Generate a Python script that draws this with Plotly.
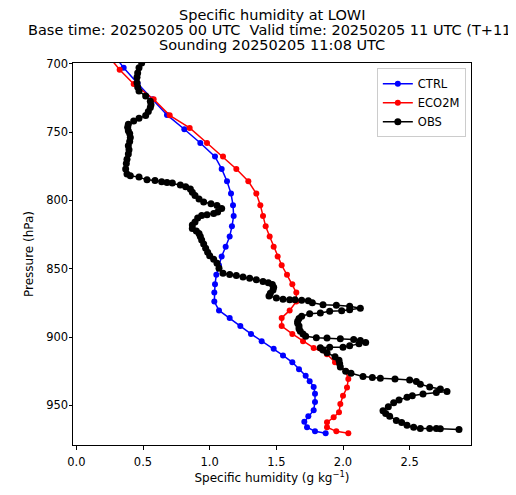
import plotly.graph_objects as go

# ---- data ----
ctrl_p = [692, 703, 714.5, 726, 737.5, 748, 758, 768, 777, 786, 795, 803.5, 811.5, 819, 826.5,
          834, 841, 847.5, 854.5, 861.3, 867.5, 874, 880.5, 886, 892, 897.7, 903, 908.5, 913.5,
          918.5, 923.5, 928.3, 932.3, 936.5, 941.5, 947.5, 953.5, 958, 962, 966, 969, 970.4]
ctrl_q = [0.27, 0.355, 0.46, 0.57, 0.68, 0.81, 0.93, 1.04, 1.09, 1.13, 1.16, 1.175, 1.18, 1.167, 1.15,
          1.12, 1.09, 1.07, 1.05, 1.04, 1.035, 1.035, 1.07, 1.15, 1.23, 1.31, 1.39, 1.48, 1.55,
          1.62, 1.67, 1.72, 1.75, 1.78, 1.79, 1.79, 1.78, 1.74, 1.71, 1.73, 1.79, 1.87]

eco_p = [692, 704.4, 714.8, 726, 737.8, 747, 758, 768, 777, 786, 795, 803.5, 811.5, 819, 826.5,
         834, 841, 847.5, 854.5, 861.3, 867.5, 874, 880.5, 886, 892, 897.7, 903, 908, 912.6,
         918.5, 924.8, 930.8, 937, 943, 949, 955, 958.7, 962.4, 966, 969, 970.4]
eco_q = [0.22, 0.325, 0.43, 0.58, 0.70, 0.85, 0.98, 1.10, 1.20, 1.29, 1.35, 1.38, 1.40, 1.42, 1.45,
         1.48, 1.51, 1.54, 1.58, 1.62, 1.65, 1.65, 1.60, 1.54, 1.54, 1.62, 1.70, 1.78, 1.88,
         1.94, 2.02, 2.04, 2.03, 2.00, 1.98, 1.97, 1.93, 1.88, 1.88, 1.95, 2.04]

obs_q = [0.50, 0.49, 0.47, 0.46, 0.455, 0.455, 0.46, 0.47, 0.52, 0.555, 0.56, 0.555, 0.54, 0.52,
         0.47, 0.43, 0.39, 0.385, 0.39, 0.40, 0.405, 0.40, 0.39, 0.395, 0.39, 0.38, 0.375, 0.37,
         0.38, 0.405, 0.47, 0.53, 0.59, 0.64, 0.68, 0.72, 0.78, 0.82, 0.855, 0.87, 0.89, 0.92, 0.955,
         1.01, 1.055, 1.09, 1.06, 1.03, 0.98, 0.94, 0.91, 0.89, 0.87, 0.87, 0.90, 0.92, 0.93,
         0.94, 0.955, 0.97, 0.985, 1.00, 1.03, 1.055, 1.07, 1.10, 1.15, 1.20, 1.25, 1.30, 1.35,
         1.40, 1.44, 1.47, 1.48, 1.475, 1.455, 1.445, 1.50, 1.55, 1.60, 1.64, 1.69, 1.74, 1.77,
         1.85, 1.95, 2.05, 2.13, 2.05, 1.99, 1.90, 1.83, 1.75, 1.69, 1.67, 1.66, 1.66, 1.67,
         1.67, 1.68, 1.70, 1.72, 1.80, 1.88, 1.98, 2.08, 2.13, 2.17, 2.12, 2.05, 2.00, 1.90,
         1.83, 1.85, 1.88, 1.94, 1.97, 1.975, 1.98, 2.02, 2.06, 2.15, 2.22, 2.28, 2.39, 2.50,
         2.55, 2.58, 2.65, 2.73, 2.78, 2.70, 2.60, 2.52, 2.48, 2.42, 2.38, 2.34, 2.30, 2.32,
         2.35, 2.40, 2.44, 2.48, 2.53, 2.58, 2.65, 2.70, 2.73, 2.87]
obs_p = [697, 699.5, 703, 706.8, 710, 714, 717, 720, 723.7, 727.4, 730, 732, 735, 738,
         740, 742, 744.3, 746.5, 749, 751, 754, 757, 760, 763, 766, 770, 773, 777,
         780.7, 782, 783, 785, 785.5, 786.3, 787, 787.3, 788.7, 790, 791.6, 794, 796.4, 799, 801.2,
         802.5, 803.7, 806, 808.5, 809.7, 810.5, 811, 813, 815.8, 818, 820.6, 822.5, 824.3, 826.5,
         829, 832, 835, 838, 840.5, 843, 846, 849.7, 853.3, 854.2, 855, 856, 857, 858,
         859.4, 860.3, 861.5, 863.5, 865.5, 868, 870, 871.5, 872.3, 872.7, 872.7, 873, 873.5, 875,
         876.3, 876.8, 877.5, 879, 880, 880.7, 881.2, 882.4, 883, 884.8, 886.5, 888.4, 890, 892,
         894, 895.7, 897.7, 899.4, 900.6, 900.8, 901.2, 901.8, 902.5, 904, 905, 906.3, 907.5, 907.5,
         907.8, 909.5, 911.5, 914.5, 917, 919.5, 922, 925, 926.5, 928.8, 929.7, 930.1, 930.8, 931.5,
         932.5, 934.5, 936.5, 938, 939.8, 940.5, 941.7, 943, 944, 946, 948, 951, 953.9, 956,
         958, 961, 962.5, 964.5, 966, 967, 967, 967, 967.2, 967.7]

x_ticks = [0.0, 0.5, 1.0, 1.5, 2.0, 2.5]
y_ticks = [700, 750, 800, 850, 900, 950]

title_lines = ["Specific humidity at LOWI",
               "Base time: 20250205 00 UTC  Valid time: 20250205 11 UTC (T+11)",
               "Sounding 20250205 11:08 UTC"]

FONT = "DejaVu Sans"
# page body has an 8px default margin; figure sized to fit the window
W, H = 508, 487
ML, MR, MT, MB = 65, 45, 55, 47
PH = H - MT - MB

fig = go.Figure()
fig.add_trace(go.Scatter(x=ctrl_q, y=ctrl_p, mode="lines+markers", name="CTRL",
                         line=dict(color="blue", width=1.5),
                         marker=dict(color="blue", size=6)))
fig.add_trace(go.Scatter(x=eco_q, y=eco_p, mode="lines+markers", name="ECO2M",
                         line=dict(color="red", width=1.5),
                         marker=dict(color="red", size=6)))
fig.add_trace(go.Scatter(x=obs_q, y=obs_p, mode="lines+markers", name="OBS",
                         line=dict(color="black", width=1.5),
                         marker=dict(color="black", size=7)))

annots = []
for i, t in enumerate(title_lines):
    ycen = 7 + 15 * i  # centre pixel from figure top
    annots.append(dict(text=t, xref="paper", yref="paper", x=0.5,
                       y=1 + (MT - ycen) / PH, xanchor="center", yanchor="middle",
                       showarrow=False, font=dict(family=FONT, size=14.5, color="black")))

fig.update_layout(
    width=W, height=H,
    margin=dict(l=ML, r=MR, t=MT, b=MB),
    paper_bgcolor="white", plot_bgcolor="white",
    font=dict(family=FONT, size=11, color="black"),
    showlegend=True,
    legend=dict(x=0.987, y=0.986, xanchor="right", yanchor="top",
                bgcolor="rgba(255,255,255,0.8)", bordercolor="#cccccc", borderwidth=1,
                font=dict(family=FONT, size=11.5), itemwidth=30, tracegroupgap=0),
    annotations=annots,
    xaxis=dict(range=[-0.025, 2.96], tickvals=x_ticks, ticktext=[f"{v:.1f}" for v in x_ticks],
               showgrid=False, zeroline=False, showline=True, mirror=True, linecolor="black",
               linewidth=1, ticks="outside", ticklen=3.5, tickcolor="black",
               tickfont=dict(family=FONT, size=11.5), ticklabelstandoff=3,
               title=dict(text="Specific humidity (g kg<sup>\u22121</sup>)", standoff=5,
                          font=dict(family=FONT, size=12))),
    yaxis=dict(range=[979, 699.5], tickvals=y_ticks, showgrid=False, zeroline=False,
               showline=True, mirror=True, linecolor="black", linewidth=1,
               ticks="outside", ticklen=3.5, tickcolor="black",
               tickfont=dict(family=FONT, size=11.5), ticklabelstandoff=-2,
               title=dict(text="Pressure (hPa)", standoff=10, font=dict(family=FONT, size=12))),
)

fig.write_html("out.html")
